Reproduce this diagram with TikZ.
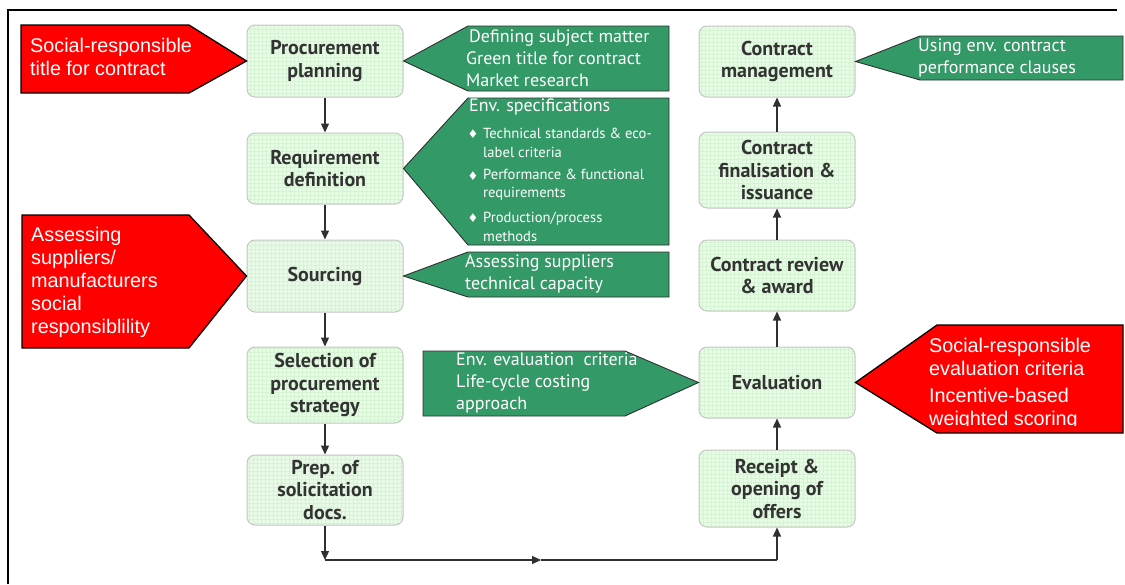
\documentclass[tikz,border=0pt]{standalone}
\usepackage{fontspec}
\setmainfont{Liberation Sans}
\newfontfamily\boxfont{PT Sans}
\newfontfamily\dvfont{DejaVu Sans}
\usetikzlibrary{arrows.meta}
\definecolor{boxfill}{HTML}{E8FBE6}
\definecolor{boxgrid}{HTML}{D6F3D3}
\definecolor{boxline}{HTML}{C4C8C4}
\definecolor{boxtext}{HTML}{333333}
\definecolor{envgreen}{HTML}{339966}
\definecolor{socred}{HTML}{FF0000}
\definecolor{linegray}{HTML}{303030}
\tikzset{
  stage/.style={draw=boxline, line width=1pt, fill=boxfill, rounded corners=8pt,
    minimum width=156pt, align=center, inner sep=2pt, text=boxtext,
    font=\boxfont\bfseries\fontsize{20}{22.5}\selectfont,
    path picture={\draw[boxgrid, line width=0.3pt]
      (path picture bounding box.south west) grid[step=4pt] (path picture bounding box.north east);}},
  envshape/.style={draw=linegray, line width=0.9pt, fill=envgreen},
  socshape/.style={draw=black, line width=1.3pt, fill=socred},
  envtext/.style={text=white, align=left, inner sep=0pt, anchor=west,
    font=\boxfont\fontsize{18}{22}\selectfont},
  envsmall/.style={text=white, align=left, inner sep=0pt, anchor=west,
    font=\boxfont\fontsize{14.6}{18.5}\selectfont},
  bullet/.style={text=white, inner sep=0pt, font=\dvfont\fontsize{12}{12}\selectfont},
  soctext/.style={text=white, align=left, inner sep=0pt, anchor=west,
    font=\fontsize{19.8}{23}\selectfont},
  arr/.style={draw=linegray, line width=1.3pt, -{Triangle[length=9pt,width=8pt]}},
  plain/.style={draw=linegray, line width=1.3pt}
}
\begin{document}
\begin{tikzpicture}[x=1pt,y=-1pt]
\useasboundingbox (0,0) rectangle (1125,584);
\fill[white] (0,0) rectangle (1125,584);
% frame
\draw[line width=1.6pt] (8,584) -- (8,10) -- (1117,10);

% left column
\node[stage, minimum height=72pt] (pp) at (325,61) {Procurement\\planning};
\node[stage, minimum height=71pt] (rd) at (325,168.5) {Requirement\\definition};
\node[stage, minimum height=72pt] (so) at (325,276) {Sourcing};
\node[stage, minimum height=76pt] (sel) at (325,385) {Selection of\\procurement\\strategy};
\node[stage, minimum height=70pt] (prep) at (325,490) {Prep. of\\solicitation\\docs.};

% right column
\node[stage, minimum height=71pt] (cm) at (777,61.5) {Contract\\management};
\node[stage, minimum height=76pt] (cf) at (777,170) {Contract\\finalisation \&\\issuance};
\node[stage, minimum height=71pt] (cr) at (777,275.5) {Contract review\\\& award};
\node[stage, minimum height=71pt] (ev) at (777,382.5) {Evaluation};
\node[stage, minimum height=77pt] (ro) at (777,488.5) {Receipt \&\\opening of\\offers};

% connectors
\draw[arr] (pp) -- (rd);
\draw[arr] (rd) -- (so);
\draw[arr] (so) -- (sel);
\draw[arr] (sel) -- (prep);
\coordinate (bl) at (325,560);
\coordinate (bm) at (541,560);
\coordinate (br) at (777,560);
\draw[arr] (prep) -- (bl);
\draw[arr] (bl) -- (bm);
\draw[plain] (bm) -- (br);
\draw[arr] (br) -- (ro);
\draw[arr] (ro) -- (ev);
\draw[arr] (ev) -- (cr);
\draw[arr] (cr) -- (cf);
\draw[arr] (cf) -- (cm);

% green callouts
\draw[envshape] (pp.east) -- (468,26) -- (669,26) -- (669,91) -- (468,91) -- cycle;
\node[envtext] (g1) at (466,58) {\hspace*{3pt}Defining subject matter\\Green title for contract\\Market research};

\draw[envshape] (rd.east) -- (468,98) -- (669,98) -- (669,245) -- (468,245) -- cycle;
\node[envtext] (g2) at (469,107) {Env. specifications};
\node[bullet] (d1) at (473,134) {♦};
\node[bullet] (d2) at (473,176) {♦};
\node[bullet] (d3) at (473,218) {♦};
\node[envsmall] (b1) at (483,143) {Technical standards \& eco-\\label criteria};
\node[envsmall] (b2) at (483,185) {Performance \& functional\\requirements};
\node[envsmall] (b3) at (483,227) {Production/process\\methods};

\draw[envshape] (so.east) -- (468,252) -- (669,252) -- (669,297) -- (468,297) -- cycle;
\node[envtext] (g3) at (465,274) {Assessing suppliers\\technical capacity};

\draw[envshape] (423,351) -- (625,351) -- (ev.west) -- (625,416) -- (423,416) -- cycle;
\node[envtext] (g4) at (456,383) {Env. evaluation\ \ criteria\\Life-cycle costing\\approach};

\draw[envshape] (cm.east) -- (920,36) -- (1123,36) -- (1123,80) -- (920,80) -- cycle;
\node[envtext] (g5) at (918,57.5) {Using env. contract\\performance clauses};

% red callouts
\draw[socshape] (21,25) -- (189,25) -- (pp.west) -- (189,93) -- (21,93) -- cycle;
\node[soctext] (r1) at (30,57) {Social-responsible\\title for contract};

\draw[socshape] (22,215) -- (189,215) -- (so.west) -- (189,348) -- (22,348) -- cycle;
\node[soctext] (r2) at (31,282) {Assessing\\suppliers/\\manufacturers\\social\\responsiblility};

\draw[socshape] (ev.east) -- (937,325) -- (1123,325) -- (1123,433) -- (937,433) -- cycle;
\begin{scope}
\clip (900,326) rectangle (1122,425);
\node[soctext] (r3a) at (929,356.5) {Social-responsible\\evaluation criteria};
\node[soctext] (r3b) at (929,409) {Incentive-based\\weighted scoring};
\end{scope}
\end{tikzpicture}
\end{document}
